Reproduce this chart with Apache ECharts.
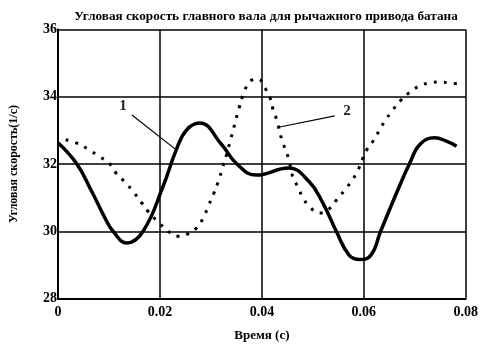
<!DOCTYPE html>
<html><head><meta charset="utf-8">
<script src="https://cdn.jsdelivr.net/npm/echarts@6/dist/echarts.min.js"></script>
<style>html,body{margin:0;padding:0;background:#fff}#c{width:481px;height:352px}</style>
</head><body><div id="c"></div>
<script>
const titleText = 'Угловая скорость главного вала для рычажного привода батана';
const xName = 'Время (с)';
const yName = 'Угловая скорость(1/с)';
const xTicks = [0, 0.02, 0.04, 0.06, 0.08];
const yTicks = [28, 30, 32, 34, 36];

const timeSolid = [0, 0.0037, 0.0066, 0.0092, 0.0108, 0.0135, 0.0167, 0.0206, 0.0232, 0.0252, 0.0278, 0.0321, 0.0351, 0.0389, 0.0452, 0.0493, 0.052, 0.0546, 0.0571, 0.0592, 0.0614, 0.0633, 0.0664, 0.069, 0.071, 0.0739, 0.0762, 0.0782];
const speedSolid = [32.63, 32.0, 31.19, 30.4, 30.0, 29.65, 30.0, 31.33, 32.42, 33.01, 33.22, 32.58, 32.0, 31.67, 31.88, 31.47, 30.83, 30.0, 29.29, 29.16, 29.29, 30.0, 31.13, 32.02, 32.58, 32.78, 32.68, 32.53];

const timeDotted = [0.0015, 0.004, 0.006, 0.008, 0.01, 0.0115, 0.0131, 0.0148, 0.0163, 0.0178, 0.0195, 0.0215, 0.0233, 0.0252, 0.0272, 0.0285, 0.0295, 0.0305, 0.0315, 0.0323, 0.0331, 0.0339, 0.0347, 0.0355, 0.0363, 0.0376, 0.0393, 0.0406, 0.0416, 0.0422, 0.0429, 0.0439, 0.0452, 0.0461, 0.0471, 0.048, 0.0494, 0.0514, 0.053, 0.0548, 0.0565, 0.0578, 0.0589, 0.0597, 0.0606, 0.0619, 0.063, 0.0641, 0.0656, 0.0671, 0.069, 0.071, 0.0729, 0.0749, 0.0769, 0.0787];
const speedDotted = [32.72, 32.6, 32.43, 32.23, 32.03, 31.71, 31.47, 31.17, 30.87, 30.57, 30.3, 30.02, 29.85, 29.9, 30.1, 30.4, 30.75, 31.1, 31.5, 31.9, 32.3, 32.75, 33.2, 33.65, 34.05, 34.45, 34.53, 34.26, 33.97, 33.62, 33.32, 32.73, 32.18, 31.6, 31.31, 31.01, 30.72, 30.54, 30.64, 30.96, 31.27, 31.54, 31.83, 32.13, 32.43, 32.7, 32.99, 33.27, 33.59, 33.87, 34.13, 34.33, 34.41, 34.44, 34.41, 34.38];

// annotation labels and leader lines (data coordinates)
const annoLabels = ['1', '2'];
const annoText = [[0.01275, 33.72], [0.0567, 33.58]];
const annoFrom = [[0.0145, 33.46], [0.0543, 33.43]];
const annoTo = [[0.0232, 32.42], [0.0435, 33.1]];

const FONT = '"Liberation Serif", "Times New Roman", serif';
const zip = (a, b) => a.map((v, i) => [v, b[i]]);

const chart = echarts.init(document.getElementById('c'), null, {renderer: 'canvas'});
chart.setOption({
  animation: false,
  backgroundColor: '#fff',
  title: {
    text: titleText, left: 261, top: 5, textAlign: 'center',
    textStyle: {fontFamily: FONT, fontWeight: 'bold', fontSize: 13.2, color: '#000'}
  },
  grid: {left: 58, right: 14, top: 29.5, bottom: 53.5, containLabel: false},
  xAxis: {
    type: 'value', min: 0, max: 0.08, interval: 0.02,
    name: xName, nameLocation: 'middle', nameGap: 31,
    nameTextStyle: {fontFamily: FONT, fontWeight: 'bold', fontSize: 13, color: '#000'},
    axisLine: {show: true, onZero: false, lineStyle: {color: '#000', width: 2}},
    axisTick: {show: false},
    axisLabel: {
      fontFamily: FONT, fontWeight: 'bold', fontSize: 14, color: '#000', margin: 7,
      formatter: v => v === 0 ? '0' : v.toFixed(2)
    },
    splitLine: {show: true, lineStyle: {color: '#000', width: 1.5}}
  },
  yAxis: {
    type: 'value', min: 28, max: 36, interval: 2,
    name: yName, nameLocation: 'middle', nameGap: 38, nameRotate: 90,
    nameTextStyle: {fontFamily: FONT, fontWeight: 'bold', fontSize: 12, color: '#000'},
    axisLine: {show: true, onZero: false, lineStyle: {color: '#000', width: 2}},
    axisTick: {show: false},
    axisLabel: {fontFamily: FONT, fontWeight: 'bold', fontSize: 14, color: '#000', margin: 1},
    splitLine: {show: true, lineStyle: {color: '#000', width: 1.5}}
  },
  series: [
    {
      type: 'line', data: zip(timeSolid, speedSolid), smooth: 0.45, showSymbol: false,
      lineStyle: {color: '#000', width: 3.5}, z: 3
    },
    {
      type: 'line', data: zip(timeDotted, speedDotted), smooth: 0.4, showSymbol: false,
      lineStyle: {color: '#000', width: 3, type: [3, 7], cap: 'butt'}, z: 3
    }
  ]
});

const els = [];
annoLabels.forEach((t, i) => {
  const p = chart.convertToPixel({gridIndex: 0}, annoText[i]);
  const a = chart.convertToPixel({gridIndex: 0}, annoFrom[i]);
  const b = chart.convertToPixel({gridIndex: 0}, annoTo[i]);
  els.push({type: 'text', x: p[0], y: p[1], z: 10,
    style: {text: t, fill: '#222', font: 'bold 15px ' + FONT, textAlign: 'center', textVerticalAlign: 'middle'}});
  els.push({type: 'line', z: 10, shape: {x1: a[0], y1: a[1], x2: b[0], y2: b[1]},
    style: {stroke: '#000', lineWidth: 1.2}});
});
chart.setOption({graphic: els});
</script></body></html>
